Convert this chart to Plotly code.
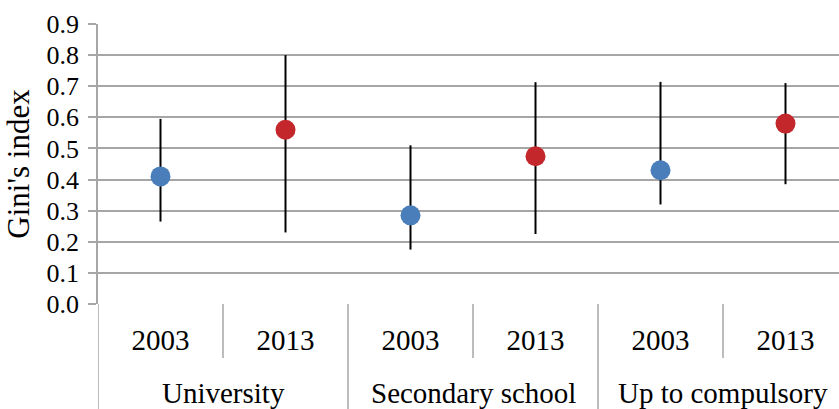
import plotly.graph_objects as go

# Gini's index by education level and survey year, with ranges
groups = ["University", "Secondary school", "Up to compulsory"]
years = ["2003", "2013"]
gini_2003 = [0.41, 0.285, 0.43]
low_2003 = [0.265, 0.175, 0.32]
high_2003 = [0.595, 0.51, 0.714]
gini_2013 = [0.56, 0.475, 0.58]
low_2013 = [0.23, 0.225, 0.385]
high_2013 = [0.80, 0.713, 0.71]
y_ticks = [0.0, 0.1, 0.2, 0.3, 0.4, 0.5, 0.6, 0.7, 0.8, 0.9]

BLUE = "#4A7EBB"
RED = "#C3262B"
GRID = "#A6A6A6"
FONT = "'Liberation Serif', 'Times New Roman', Times, 'DejaVu Serif', serif"

x_2003 = [2 * i for i in range(len(groups))]
x_2013 = [2 * i + 1 for i in range(len(groups))]

fig = go.Figure()


def add_series(xs, vals, lows, highs, color):
    fig.add_trace(go.Scatter(
        x=xs, y=vals, mode="markers",
        marker=dict(size=20, color=color, line=dict(width=0)),
        error_y=dict(
            type="data", symmetric=False,
            array=[h - v for h, v in zip(highs, vals)],
            arrayminus=[v - l for v, l in zip(vals, lows)],
            color="black", thickness=2, width=0,
        ),
        showlegend=False, cliponaxis=False,
    ))


add_series(x_2003, gini_2003, low_2003, high_2003, BLUE)
add_series(x_2013, gini_2013, low_2013, high_2013, RED)

shapes = []
# year dividers within each group
for i in range(len(groups)):
    shapes.append(dict(type="line", xref="x", yref="paper",
                       x0=2 * i + 0.5, x1=2 * i + 0.5, y0=0, y1=-0.193,
                       line=dict(color=GRID, width=1.5)))
# group dividers, including the left edge
for i in range(len(groups)):
    shapes.append(dict(type="line", xref="x", yref="paper",
                       x0=2 * i - 0.5, x1=2 * i - 0.5, y0=0, y1=-0.38,
                       line=dict(color=GRID, width=1.5)))

annotations = []
for i, g in enumerate(groups):
    annotations.append(dict(x=2 * i + 0.5, y=-0.318, xref="x", yref="paper",
                            text=g, showarrow=False, yanchor="middle",
                            font=dict(family=FONT, size=29, color="black")))

fig.update_layout(
    width=839, height=409,
    margin=dict(l=98, r=0, t=24, b=105),
    paper_bgcolor="white", plot_bgcolor="white",
    shapes=shapes, annotations=annotations,
    font=dict(family=FONT, color="black"),
    xaxis=dict(
        range=[-0.5, 5.428],
        tickvals=x_2003 + x_2013,
        ticktext=[years[0]] * len(groups) + [years[1]] * len(groups),
        tickfont=dict(family=FONT, size=29, color="black"),
        showgrid=False, zeroline=False, showline=False,
        ticks="", ticklabelstandoff=16,
    ),
    yaxis=dict(
        range=[0, 0.9], tickvals=y_ticks,
        ticktext=[f"{v:.1f}" for v in y_ticks],
        tickfont=dict(family=FONT, size=26, color="black"),
        showgrid=True, gridcolor=GRID, gridwidth=2,
        zeroline=False, showline=True, linecolor=GRID, linewidth=1.5,
        ticks="outside", ticklen=8, tickcolor=GRID, tickwidth=1.5,
        ticklabelstandoff=4,
        title=dict(text="Gini's index",
                   font=dict(family=FONT, size=31, color="black"),
                   standoff=8),
    ),
)

fig.write_html("out.html")
